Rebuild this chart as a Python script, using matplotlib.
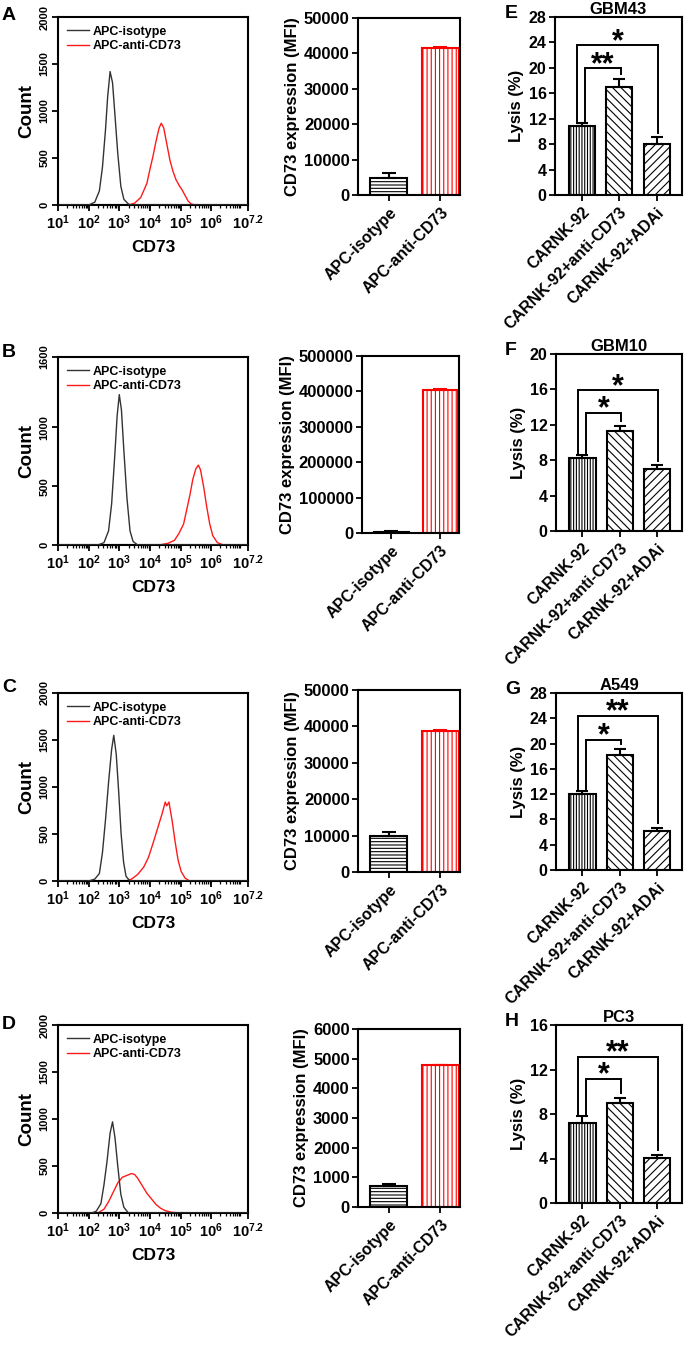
import numpy as np
import matplotlib
matplotlib.use("Agg")
import matplotlib.pyplot as plt

plt.rcParams['font.family'] = ['Liberation Sans', 'DejaVu Sans']
plt.rcParams['font.weight'] = 'bold'
plt.rcParams['axes.labelweight'] = 'bold'
plt.rcParams['axes.titleweight'] = 'bold'
plt.rcParams['mathtext.fontset'] = 'custom'
plt.rcParams['mathtext.rm'] = 'Liberation Sans:bold'
plt.rcParams['mathtext.bf'] = 'Liberation Sans:bold'
plt.rcParams['mathtext.it'] = 'Liberation Sans:bold'
plt.rcParams['hatch.linewidth'] = 0.8

# ---------------- data ----------------
hist_letters = ['A', 'B', 'C', 'D']
hist_ymax = [2000, 1600, 2000, 2000]
hist_yticks = [[0, 500, 1000, 1500, 2000], [0, 500, 1000, 1600],
               [0, 500, 1000, 1500, 2000], [0, 500, 1000, 1500, 2000]]

# (log10 CD73, count)
iso_A_x = [1.0, 2.0, 2.2, 2.35, 2.45, 2.55, 2.62, 2.7, 2.78, 2.86, 2.95, 3.05, 3.15, 3.3, 3.4, 7.2]
iso_A_y = [0, 0, 30, 150, 400, 800, 1150, 1420, 1300, 950, 550, 200, 60, 10, 0, 0]
red_A_x = [1.0, 3.3, 3.5, 3.7, 3.9, 4.0, 4.1, 4.2, 4.3, 4.37, 4.45, 4.55, 4.65, 4.75, 4.85, 4.95, 5.05, 5.15, 5.25, 5.35, 5.5, 7.2]
red_A_y = [0, 0, 20, 80, 230, 380, 520, 680, 820, 870, 820, 650, 480, 360, 270, 210, 160, 100, 40, 10, 0, 0]

iso_B_x = [1.0, 2.3, 2.5, 2.65, 2.75, 2.85, 2.93, 3.0, 3.07, 3.15, 3.25, 3.35, 3.45, 3.6, 7.2]
iso_B_y = [0, 0, 20, 120, 350, 750, 1100, 1280, 1150, 800, 400, 120, 30, 0, 0]
red_B_x = [1.0, 4.3, 4.6, 4.8, 4.95, 5.1, 5.2, 5.3, 5.4, 5.5, 5.58, 5.65, 5.75, 5.85, 5.95, 6.05, 6.2, 6.4, 7.2]
red_B_y = [0, 0, 15, 40, 100, 180, 300, 420, 560, 650, 680, 640, 500, 330, 180, 80, 20, 0, 0]

iso_C_x = [1.0, 2.0, 2.2, 2.35, 2.45, 2.55, 2.65, 2.75, 2.82, 2.9, 2.98, 3.06, 3.14, 3.22, 3.35, 7.2]
iso_C_y = [0, 0, 20, 80, 300, 650, 1050, 1400, 1550, 1350, 950, 500, 200, 50, 0, 0]
red_C_x = [1.0, 3.2, 3.4, 3.6, 3.8, 3.95, 4.1, 4.25, 4.4, 4.5, 4.55, 4.62, 4.72, 4.82, 4.92, 5.02, 5.15, 5.3, 7.2]
red_C_y = [0, 0, 20, 70, 150, 250, 400, 560, 720, 840, 800, 840, 650, 420, 220, 100, 30, 0, 0]

iso_D_x = [1.0, 2.1, 2.25, 2.4, 2.5, 2.6, 2.7, 2.78, 2.86, 2.95, 3.05, 3.15, 3.3, 7.2]
iso_D_y = [0, 0, 20, 100, 300, 550, 850, 970, 800, 500, 200, 60, 0, 0]
red_D_x = [1.0, 2.3, 2.5, 2.65, 2.8, 2.95, 3.1, 3.25, 3.4, 3.5, 3.6, 3.75, 3.9, 4.05, 4.2, 4.35, 4.5, 4.7, 5.0, 7.2]
red_D_y = [0, 0, 40, 120, 220, 320, 380, 400, 420, 410, 370, 290, 210, 150, 90, 50, 25, 8, 0, 0]

iso_x = [iso_A_x, iso_B_x, iso_C_x, iso_D_x]
iso_y = [iso_A_y, iso_B_y, iso_C_y, iso_D_y]
red_x = [red_A_x, red_B_x, red_C_x, red_D_x]
red_y = [red_A_y, red_B_y, red_C_y, red_D_y]

mfi_categories = ['APC-isotype', 'APC-anti-CD73']
mfi_values = [[4900, 41500], [3000, 405000], [9800, 38800], [700, 4770]]
mfi_errors = [[1400, 400], [1500, 3000], [1200, 300], [80, 30]]
mfi_ymax = [50000, 500000, 50000, 6000]
mfi_step = [10000, 100000, 10000, 1000]

lysis_categories = ['CARNK-92', 'CARNK-92+anti-CD73', 'CARNK-92+ADAi']
lysis_letters = ['E', 'F', 'G', 'H']
lysis_titles = ['GBM43', 'GBM10', 'A549', 'PC3']
lysis_values = [[10.8, 17.0, 8.0], [8.3, 11.3, 7.06], [11.96, 18.2, 6.19], [7.19, 8.99, 4.06]]
lysis_errors = [[0.6, 1.2, 1.06], [0.34, 0.55, 0.37], [0.54, 0.95, 0.53], [0.63, 0.45, 0.27]]
lysis_ymax = [28, 20, 28, 16]
lysis_inner = [19.9, 13.36, 20.6, 11.19]
lysis_outer = [23.6, 15.9, 24.4, 13.14]
lysis_inner_star = ['**', '*', '*', '*']
lysis_outer_star = ['*', '*', '**', '**']

# ---------------- layout ----------------
W, H = 685, 1348
fig = plt.figure(figsize=(W / 100, H / 100), dpi=100)


def rect(l, t, r, b):
    return [l / W, 1 - b / H, (r - l) / W, (b - t) / H]


hist_rows = [(17, 205), (357, 545), (693, 881), (1025, 1213)]
hist_letter_top = [7, 344, 679, 1016]
mfi_rects = [(358, 18, 460, 195), (362, 356, 459, 533), (358, 690, 460, 872), (358, 1029, 460, 1207)]
lys_rects = [(555, 17, 682, 195), (556, 354, 682, 531), (556, 693, 682, 870), (556, 1025, 682, 1203)]

SPW = 1.5


def style_box(ax):
    for s in ax.spines.values():
        s.set_linewidth(SPW)
        s.set_color('black')


# ---------------- histograms ----------------
for i in range(4):
    t, b = hist_rows[i]
    ax = fig.add_axes(rect(58, t, 248, b))
    style_box(ax)
    ax.set_xscale('log')
    ax.plot([10 ** 1, 10 ** 7.2], [0, 0], color='#1a1a6e', lw=1.5, zorder=1)
    ax.plot(10 ** np.array(iso_x[i]), iso_y[i], color='#333333', lw=1.0, label='APC-isotype', zorder=3)
    ax.plot(10 ** np.array(red_x[i]), red_y[i], color='#ff1a1a', lw=1.0, label='APC-anti-CD73', zorder=2)
    ax.set_xlim(10 ** 1, 10 ** 7.2)
    ax.set_ylim(0, hist_ymax[i])
    major = [10 ** k for k in range(1, 7)] + [10 ** 7.2]
    ax.set_xticks(major)
    ax.set_xticklabels([r'$10^{%d}$' % k for k in range(1, 7)] + [r'$10^{7.2}$'], fontsize=10.5)
    minors = [m * 10 ** k for k in range(1, 7) for m in range(2, 10) if m * 10 ** k < 10 ** 7.2]
    ax.set_xticks(minors, minor=True)
    ax.xaxis.set_minor_formatter(plt.NullFormatter())
    ax.set_yticks(hist_yticks[i])
    ax.set_yticklabels([str(v) for v in hist_yticks[i]], fontsize=8, rotation=90, va='center')
    ax.tick_params(axis='both', which='major', direction='out', length=4, width=1.3, pad=2)
    ax.tick_params(axis='x', which='minor', direction='out', length=2.5, width=0.9)
    ax.set_ylabel('Count', fontsize=13.5, labelpad=3)
    ax.set_xlabel('CD73', fontsize=12.5, labelpad=6)
    ax.legend(loc='upper left', frameon=False, fontsize=9, handlelength=1.8,
              handletextpad=0.3, borderaxespad=0.3, labelspacing=0.2)
    fig.text(2 / W, 1 - hist_letter_top[i] / H, hist_letters[i], fontsize=14, fontweight='bold',
             va='top', ha='left')

# ---------------- MFI bar charts ----------------
for i in range(4):
    l, t, r, b = mfi_rects[i]
    ax = fig.add_axes(rect(l, t, r, b))
    style_box(ax)
    xs = np.arange(2)
    edge = ['black', '#ff0000']
    hatches = ['-----', '||||']
    for j in range(2):
        ax.bar(xs[j], mfi_values[i][j], width=0.72, color='white', edgecolor=edge[j],
               hatch=hatches[j], linewidth=1.5, zorder=2)
        ax.errorbar(xs[j], mfi_values[i][j], yerr=[[0], [mfi_errors[i][j]]], color=edge[j],
                    capsize=5, elinewidth=1.5, capthick=1.5, zorder=3)
    ax.set_xlim(-0.6, 1.38)
    ax.set_ylim(0, mfi_ymax[i])
    ax.set_yticks(np.arange(0, mfi_ymax[i] + 1, mfi_step[i]))
    ax.set_xticks(xs)
    ax.set_xticklabels(mfi_categories, rotation=45, ha='right', rotation_mode='anchor')
    ax.tick_params(axis='both', direction='out', length=4, width=1.3, labelsize=12, pad=2)
    ax.tick_params(axis='x', labelsize=11.5, pad=3)
    ax.set_ylabel('CD73 expression (MFI)', fontsize=12, labelpad=3)

# ---------------- Lysis bar charts ----------------
for i in range(4):
    l, t, r, b = lys_rects[i]
    ax = fig.add_axes(rect(l, t, r, b))
    style_box(ax)
    xs = np.arange(3)
    hatches = ['||||||', '\\\\\\\\', '////']
    vals = lysis_values[i]
    errs = lysis_errors[i]
    for j in range(3):
        ax.bar(xs[j], vals[j], width=0.7, color='white', edgecolor='black',
               hatch=hatches[j], linewidth=1.5, zorder=2)
        ax.errorbar(xs[j], vals[j], yerr=[[0], [errs[j]]], color='black',
                    capsize=4.5, elinewidth=1.5, capthick=1.5, zorder=3)
    ymax = lysis_ymax[i]
    ax.set_xlim(-0.71, 2.67)
    ax.set_ylim(0, ymax)
    ax.set_yticks(np.arange(0, ymax + 1, 4))
    ax.set_xticks(xs)
    ax.set_xticklabels(lysis_categories, rotation=45, ha='right', rotation_mode='anchor')
    ax.tick_params(axis='both', direction='out', length=4, width=1.3, labelsize=11.5, pad=2)
    ax.tick_params(axis='x', labelsize=11.5, pad=3)
    ax.set_ylabel('Lysis (%)', fontsize=12, labelpad=3)
    ax.set_title(lysis_titles[i], fontsize=12, pad=2)
    # significance brackets
    tops = [v + e for v, e in zip(vals, errs)]
    lw = 1.4
    yi = lysis_inner[i]
    x0i, x1i = 0.09, 1.04
    ax.plot([x0i, x0i, x1i, x1i], [tops[0] + 0.01 * ymax, yi, yi, tops[1] + 0.03 * ymax],
            color='black', lw=lw, zorder=4, solid_joinstyle='miter')
    ax.annotate(lysis_inner_star[i], ((x0i + x1i) / 2, yi), xytext=(0, -3.5), textcoords='offset points',
                ha='center', va='baseline', fontsize=22, fontweight='bold')
    yo = lysis_outer[i]
    x0o, x1o = -0.115, 2.02
    ax.plot([x0o, x0o, x1o, x1o], [tops[0] + 0.01 * ymax, yo, yo, tops[2] + 0.025 * ymax],
            color='black', lw=lw, zorder=4, solid_joinstyle='miter')
    ax.annotate(lysis_outer_star[i], ((x0o + x1o) / 2, yo), xytext=(0, -3.5), textcoords='offset points',
                ha='center', va='baseline', fontsize=22, fontweight='bold')
    fig.text(505 / W, 1 - (t - 12) / H, lysis_letters[i], fontsize=14, fontweight='bold', va='top', ha='left')

fig.savefig('out.png', dpi=100)
